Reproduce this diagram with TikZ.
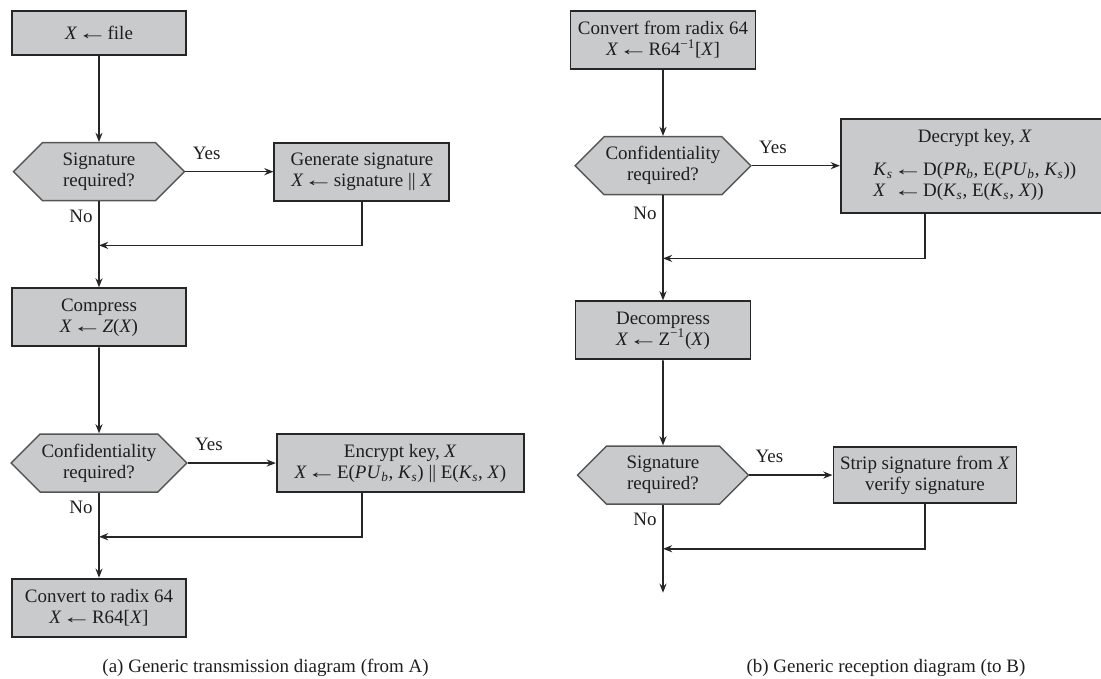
\documentclass[tikz,border=0pt]{standalone}
\usepackage{fontspec}
\usepackage{graphicx}
\setmainfont{Liberation Serif}
\usetikzlibrary{arrows.meta,positioning,shapes.symbols}
\definecolor{boxfill}{HTML}{C9CACC}
\definecolor{boxline}{HTML}{262626}
\definecolor{hexline}{HTML}{555555}
\definecolor{inkdark}{HTML}{1E1E1E}
\newcommand{\vx}{\textit{X\/}}
\newcommand{\Ks}{\textit{K\/}\textsubscript{\textit{s}}}
\newcommand{\PUb}{\textit{PU\/}\textsubscript{\textit{b}}}
\newcommand{\PRb}{\textit{PR\/}\textsubscript{\textit{b}}}
\newcommand{\lto}{\scalebox{1.6}[1]{←}}
\newcommand{\dbar}{\textbar\textbar}

\begin{document}
\begin{tikzpicture}[
  >=Stealth,
  every node/.style={font=\fontsize{13.5pt}{15pt}\selectfont, text=inkdark},
  process/.style={rectangle, draw=boxline, fill=boxfill, line width=1.4pt, align=center, minimum height=1.45cm, inner sep=2pt},
  decision/.style={signal, signal to=west and east, signal pointer angle=90, draw=hexline, fill=boxfill, line width=1pt, align=center, minimum width=4.275cm, minimum height=1.45cm, inner sep=1pt},
  flowarrow/.style={-{Stealth[length=6.5pt,width=5pt]}, line width=1.1pt, draw=boxline},
  branch/.style={inner sep=2pt}
]
  \useasboundingbox (0,0) rectangle (27.525,-16.975);

  % Column (a): transmission
  \node[process, minimum width=4.35cm, minimum height=1.1cm] (file) at (2.475,-0.825) {\vx\lto file};
  \node[decision, below=2.15cm of file] (sigA) {Signature\\required?};
  \node[process, right=2.2cm of sigA, minimum width=4.375cm] (gensig) {Generate signature\\\vx\lto signature \dbar\ \vx};
  \coordinate[below=1.1cm of sigA] (joinA);
  \node[process, below=2.15cm of sigA, minimum width=4.35cm] (compress) {Compress\\\vx\lto\textit{Z\/}(\vx)};
  \node[decision, below=2.15cm of compress] (confA) {Confidentiality\\required?};
  \node[process, right=2.2cm of confA, minimum width=6.175cm] (encrypt) {Encrypt key, \vx\\\vx\lto E(\PUb, \Ks) \dbar\ E(\Ks, \vx)};
  \coordinate[below=1.1cm of confA] (joinB);
  \node[process, below=2.125cm of confA, minimum width=4.35cm] (toradix) {Convert to radix 64\\\vx\lto R64[\vx]};
  \node at (6.64,-16.7) (captionA) {(a) Generic transmission diagram (from A)};

  % Column (b): reception
  \node[process, minimum width=4.625cm] (fromradix) at (16.575,-1.0) {Convert from radix 64\\\vx\lto R64\textsuperscript{−1}[\vx]};
  \node[decision, below=1.65cm of fromradix] (confB) {Confidentiality\\required?};
  \node[process, right=2.2cm of confB, minimum width=6.7cm, minimum height=2.35cm] (decrypt) {Decrypt key, \vx\\[9pt]
    \begin{tabular}{@{}l@{}l@{}}
      \Ks & \lto D(\PRb, E(\PUb, \Ks))\\
      \vx & \lto D(\Ks, E(\Ks, \vx))
    \end{tabular}};
  \coordinate[below=1.575cm of confB] (joinC);
  \node[process, below=2.625cm of confB, minimum width=4.375cm] (decomp) {Decompress\\\vx\lto Z\textsuperscript{−1}(\vx)};
  \node[decision, below=2.125cm of decomp] (sigB) {Signature\\required?};
  \node[process, right=2.075cm of sigB, minimum width=4.575cm, minimum height=1.4cm] (strip) {Strip signature from \vx\\verify signature};
  \coordinate[below=1.1cm of sigB] (joinD);
  \coordinate[below=1.1cm of joinD] (out);
  \node at (22.15,-16.7) (captionB) {(b) Generic reception diagram (to B)};

  % Flow arrows (a)
  \draw[flowarrow] (file) -- (sigA);
  \draw[flowarrow] (sigA.east) -- node[branch, above=6pt, pos=0.24] {Yes} (gensig.west);
  \draw[flowarrow] (sigA.south) -- node[branch, left=2pt, pos=0.34] {No} (joinA) -- (compress);
  \draw[flowarrow] (gensig.south) |- (joinA);
  \draw[flowarrow] (compress) -- (confA);
  \draw[flowarrow] (confA.east) -- node[branch, above=6pt, pos=0.24] {Yes} (encrypt.west);
  \draw[flowarrow] (confA.south) -- node[branch, left=2pt, pos=0.34] {No} (joinB) -- (toradix);
  \draw[flowarrow] (gensig.south |- encrypt.south) |- (joinB);

  % Flow arrows (b)
  \draw[flowarrow] (fromradix) -- (confB);
  \draw[flowarrow] (confB.east) -- node[branch, above=6pt, pos=0.24] {Yes} (decrypt.west);
  \draw[flowarrow] (confB.south) -- node[branch, left=2pt, pos=0.29] {No} (joinC) -- (decomp);
  \draw[flowarrow] (strip.south |- decrypt.south) |- (joinC);
  \draw[flowarrow] (decomp) -- (sigB);
  \draw[flowarrow] (sigB.east) -- node[branch, above=6pt, pos=0.24] {Yes} (strip.west);
  \draw[flowarrow] (sigB.south) -- node[branch, left=2pt, pos=0.34] {No} (joinD) -- (out);
  \draw[flowarrow] (strip.south) |- (joinD);
\end{tikzpicture}
\end{document}
